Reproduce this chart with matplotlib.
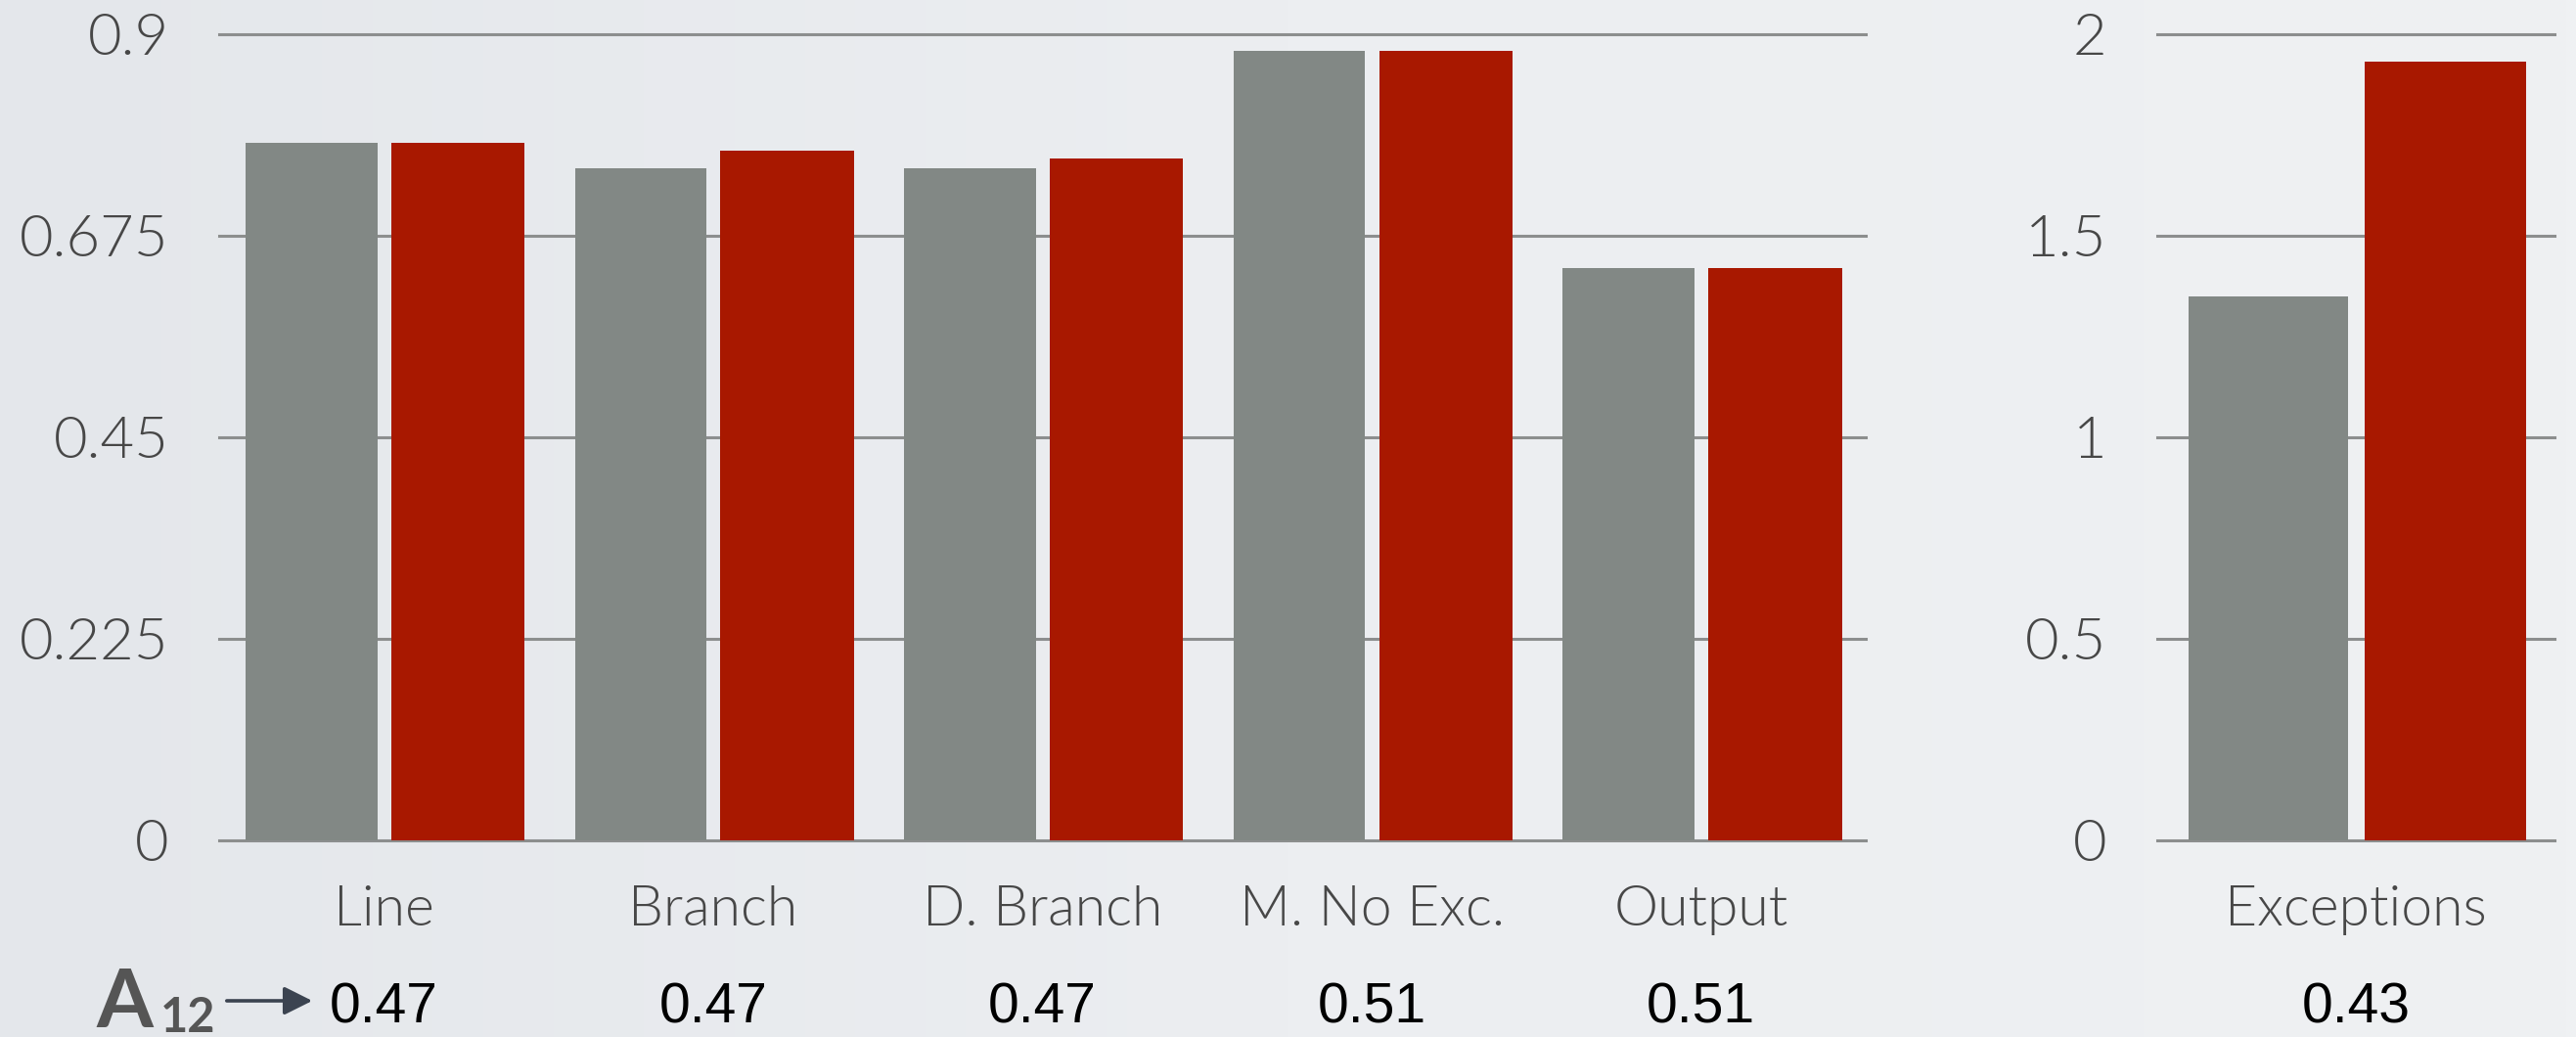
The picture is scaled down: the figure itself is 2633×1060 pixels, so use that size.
"""Coverage criteria bar chart: baseline vs. improved, with A12 effect sizes."""
import matplotlib
matplotlib.use('Agg')
import matplotlib.pyplot as plt
import numpy as np
from matplotlib.colors import LinearSegmentedColormap
from matplotlib.patches import FancyArrowPatch
from matplotlib.transforms import blended_transform_factory

# Coverage criteria (left panel)
CATEGORIES = ['Line', 'Branch', 'D. Branch', 'M. No Exc.', 'Output']
BASELINE = [0.779, 0.750, 0.750, 0.881, 0.639]
IMPROVED = [0.779, 0.770, 0.761, 0.881, 0.639]
A12 = ['0.47', '0.47', '0.47', '0.51', '0.51']
LEFT_TICKS = [0, 0.225, 0.45, 0.675, 0.9]
LEFT_TICK_LABELS = ['0', '0.225', '0.45', '0.675', '0.9']

# Exceptions (right panel)
EXC_CATEGORIES = ['Exceptions']
EXC_BASELINE = [1.350]
EXC_IMPROVED = [1.932]
EXC_A12 = ['0.43']
RIGHT_TICKS = [0, 0.5, 1, 1.5, 2]
RIGHT_TICK_LABELS = ['0', '0.5', '1', '1.5', '2']

GREY = '#828885'
RED = '#a81800'
GRID = '#8c8e8e'
LABEL = '#474747'
LIGHT_FONT = ['Lato', 'DejaVu Sans']
NUM_FONT = ['Liberation Sans', 'DejaVu Sans']

W, H, DPI = 2633, 1060, 100


def fx(px):
    return px / W


def fy(py):
    return (H - py) / H


def draw_panel(fig, rect, categories, baseline, improved, ticks, tick_labels, a12):
    ax = fig.add_axes(rect)
    ax.set_facecolor('none')
    x = np.arange(len(categories))

    ax.bar(x - 0.22, baseline, 0.4, color=GREY, zorder=2)
    ax.bar(x + 0.225, improved, 0.405, color=RED, zorder=2)

    ax.set_xlim(-0.5, len(categories) - 0.5)
    ax.set_ylim(ticks[0], ticks[-1])
    ax.set_yticks(ticks, tick_labels)
    ax.set_xticks(x, categories)
    ax.yaxis.grid(True, color=GRID, linewidth=2.2)
    for line in ax.get_ygridlines():
        line.set_clip_on(False)
    ax.set_axisbelow(True)
    for spine in ax.spines.values():
        spine.set_visible(False)

    ax.tick_params(axis='both', length=0, labelcolor=LABEL)
    ax.tick_params(axis='y', pad=37, labelsize=43)
    ax.tick_params(axis='x', pad=33, labelsize=41)
    for label in ax.get_xticklabels() + ax.get_yticklabels():
        label.set_family(LIGHT_FONT)
        label.set_fontweight(300)

    # A12 effect size under each category
    trans = blended_transform_factory(ax.transData, fig.transFigure)
    for xi, value in zip(x, a12):
        ax.text(xi, fy(1045), value, transform=trans, ha='center',
                va='baseline', fontsize=41, color='black', family=NUM_FONT)
    return ax


def main():
    fig = plt.figure(figsize=(W / DPI, H / DPI), dpi=DPI)

    # Soft slide background
    bg = fig.add_axes([0, 0, 1, 1], zorder=-1)
    cmap = LinearSegmentedColormap.from_list('bg', ['#e4e7eb', '#eceef1', '#eff1f3'])
    grad = np.linspace(0, 1, 256)[None, :]
    bg.imshow(grad, cmap=cmap, aspect='auto', extent=[0, 1, 0, 1])
    bg.axis('off')

    draw_panel(fig, [fx(224), fy(859), fx(1907 - 224), 824 / H],
               CATEGORIES, BASELINE, IMPROVED, LEFT_TICKS, LEFT_TICK_LABELS, A12)
    draw_panel(fig, [fx(2205), fy(859), fx(2611 - 2205), 824 / H],
               EXC_CATEGORIES, EXC_BASELINE, EXC_IMPROVED, RIGHT_TICKS,
               RIGHT_TICK_LABELS, EXC_A12)

    # A12 row header with arrow
    fig.text(fx(98), fy(1050), 'A', ha='left', va='baseline', fontsize=60,
             fontweight='bold', color='#555555', family=LIGHT_FONT)
    fig.text(fx(164), fy(1055), '12', ha='left', va='baseline', fontsize=35,
             fontweight='bold', color='#555555', family=LIGHT_FONT)
    arrow = FancyArrowPatch((fx(229), fy(1023)), (fx(322), fy(1023)),
                            transform=fig.transFigure,
                            arrowstyle='-|>,head_length=0.8,head_width=0.4',
                            mutation_scale=22, linewidth=2.6, color='#3b4350')
    fig.add_artist(arrow)

    fig.savefig('out.png', dpi=DPI)
    plt.close(fig)


if __name__ == '__main__':
    main()
